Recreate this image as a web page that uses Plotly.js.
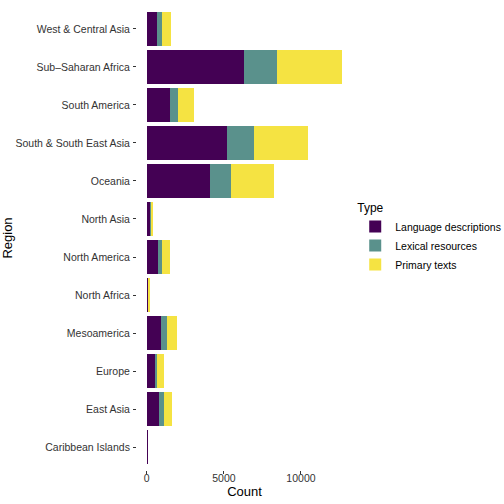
<!DOCTYPE html>
<html>
<head>
<meta charset="utf-8">
<script src="https://cdn.plot.ly/plotly-3.0.1.min.js"></script>
<style>html,body{margin:0;padding:0;background:#fff}#chart{width:504px;height:504px}</style>
</head>
<body>
<div id="chart"></div>
<script>
// Regions, bottom to top
const regions = ["Caribbean Islands","East Asia","Europe","Mesoamerica","North Africa","North America","North Asia","Oceania","South & South East Asia","South America","Sub\u2013Saharan Africa","West & Central Asia"];
const languageDescriptions = [50, 800, 540, 950, 70, 710, 215, 4100, 5220, 1510, 6300, 690];
const lexicalResources     = [15, 300, 150, 345, 30, 280, 65, 1380, 1730, 520, 2120, 325];
const primaryTexts         = [30, 560, 410, 670, 100, 500, 150, 2765, 3480, 1035, 4255, 545];
const typeNames = ["Language descriptions","Lexical resources","Primary texts"];
const typeColors = ["#440154","#5A918C","#F5E342"];
const seriesValues = [languageDescriptions, lexicalResources, primaryTexts];

const traces = seriesValues.map((vals, i) => ({
  type: 'bar', orientation: 'h',
  y: regions, x: vals, name: typeNames[i],
  marker: {color: typeColors[i], line: {width: 0}},
  hoverinfo: 'x+y+name'
}));

const ff = 'Liberation Sans, Arial, sans-serif';
const layout = {
  width: 504, height: 504,
  margin: {l: 137, r: 152, t: 6, b: 34, autoexpand: false},
  paper_bgcolor: '#fff', plot_bgcolor: '#fff',
  barmode: 'stack', bargap: 0.1,
  font: {family: ff, size: 11, color: '#222'},
  showlegend: true,
  legend: {
    x: 1.015, xanchor: 'left', y: 0.5, yanchor: 'middle',
    traceorder: 'normal',
    title: {text: 'Type', font: {family: ff, size: 12, color: '#000'}},
    font: {family: ff, size: 10.5, color: '#000'},
    itemwidth: 30
  },
  xaxis: {
    range: [-634, 13310],
    tickvals: [0, 5000, 10000], ticktext: ['0','5000','10000'],
    ticks: 'outside', ticklen: 3, tickcolor: '#333', tickwidth: 1,
    ticklabelstandoff: -5,
    showgrid: false, zeroline: false, showline: false,
    tickfont: {family: ff, size: 10.5, color: '#333'},
    title: {text: 'Count', font: {family: ff, size: 13, color: '#000'}, standoff: 0}
  },
  yaxis: {
    type: 'category', categoryorder: 'array', categoryarray: regions,
    range: [-0.6, 11.6],
    automargin: true,
    ticks: 'outside', ticklen: 3, tickcolor: '#333', tickwidth: 1,
    ticklabelstandoff: 1,
    showgrid: false, zeroline: false, showline: false,
    tickfont: {family: ff, size: 10.5, color: '#333'},
    title: {text: 'Region', font: {family: ff, size: 13, color: '#000'}, standoff: 3}
  }
};

Plotly.newPlot('chart', traces, layout, {displayModeBar: false, staticPlot: true});
</script>
</body>
</html>
